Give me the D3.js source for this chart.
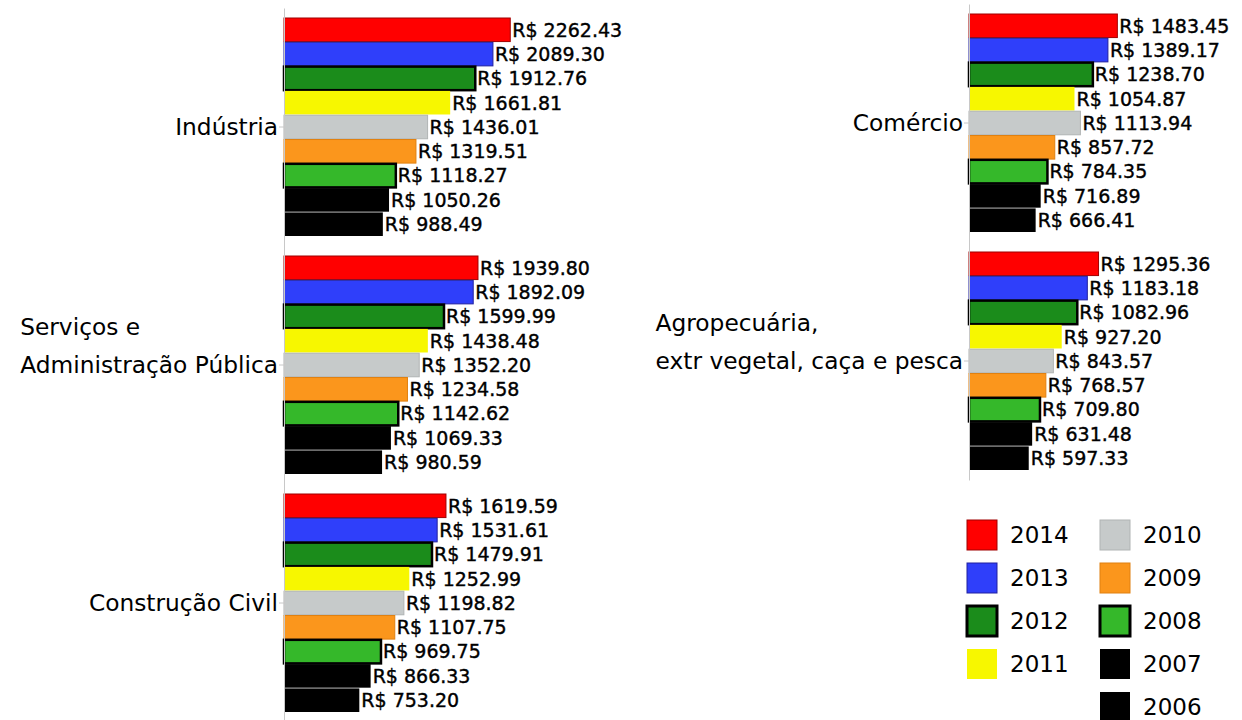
<!DOCTYPE html>
<html>
<head>
<meta charset="utf-8">
<script src="https://cdn.jsdelivr.net/npm/d3@7/dist/d3.min.js"></script>
<style>
  body { margin: 0; background: #fff; }
  svg { display: block; font-family: "DejaVu Sans", sans-serif; }
  .axis path, .axis line { stroke: #c8c8c8; }
</style>
</head>
<body>
<div id="chart"></div>
<script>
var years = ["2014", "2013", "2012", "2011", "2010", "2009", "2008", "2007", "2006"]

var industria = [2262.43, 2089.30, 1912.76, 1661.81, 1436.01, 1319.51, 1118.27, 1050.26, 988.49]
var servicos = [1939.80, 1892.09, 1599.99, 1438.48, 1352.20, 1234.58, 1142.62, 1069.33, 980.59]
var construcao = [1619.59, 1531.61, 1479.91, 1252.99, 1198.82, 1107.75, 969.75, 866.33, 753.20]
var comercio = [1483.45, 1389.17, 1238.70, 1054.87, 1113.94, 857.72, 784.35, 716.89, 666.41]
var agro = [1295.36, 1183.18, 1082.96, 927.20, 843.57, 768.57, 709.80, 631.48, 597.33]

var leftCats = ["Indústria", "Serviços e\nAdministração Pública", "Construção Civil"]
var rightCats = ["Comércio", "Agropecuária,\nextr vegetal, caça e pesca"]

var fills = ["#ff0000", "#2f3ffa", "#1b8c1b", "#f7f700", "#c6caca", "#fb961c", "#35b82a", "#000000", "#000000"]
var strokes = ["#a00000", "#2020a0", "#000000", "none", "#b0b4b4", "#e08010", "#000000", "none", "none"]

var width = 1242, height = 720

var svg = d3.select("#chart")
  .append("svg")
  .attr("width", width)
  .attr("height", height)

var x = d3.scaleLinear().domain([0, 2500]).range([0, 250])
var fmt = d3.format(".2f")

function drawColumn(cats, series, x0, y0, y1) {
  var outer = d3.scaleBand().domain(cats).range([y0, y1])
  var inner = d3.scaleBand().domain(years)
    .range([10, outer.bandwidth() - 10])
    .paddingInner(0.03)

  var g = svg.append("g")

  cats.forEach(function (c, ci) {
    var rows = years.map(function (y, i) {
      return { year: y, value: series[ci][i], i: i }
    })
    var panel = g.append("g")
      .attr("transform", "translate(" + x0 + "," + outer(c) + ")")

    panel.selectAll("rect")
      .data(rows)
      .enter()
      .append("rect")
      .attr("x", 0)
      .attr("y", function (d) { return inner(d.year) })
      .attr("width", function (d) { return x(d.value) })
      .attr("height", inner.bandwidth())
      .attr("fill", function (d) { return fills[d.i] })
      .attr("stroke", function (d) { return strokes[d.i] })
      .attr("stroke-width", function (d) { return strokes[d.i] == "#000000" ? 2.5 : 1 })

    panel.selectAll("text.val")
      .data(rows)
      .enter()
      .append("text")
      .attr("class", "val")
      .attr("x", function (d) { return x(d.value) + 2 })
      .attr("y", function (d) { return inner(d.year) + inner.bandwidth() / 2 })
      .attr("dy", "0.36em")
      .attr("font-size", 19)
      .attr("fill", "#000")
      .attr("stroke", "#000")
      .attr("stroke-width", 0.4)
      .text(function (d) { return "R$ " + fmt(d.value) })
  })

  var axis = g.append("g")
    .attr("class", "axis")
    .attr("transform", "translate(" + x0 + ",0)")
    .call(d3.axisLeft(outer).tickSize(5).tickSizeOuter(0))

  axis.selectAll(".tick text").remove()

  // category labels: last line sits at the tick, lines left-aligned
  axis.selectAll(".tick").each(function (c) {
    var lines = c.split("\n")
    var t = d3.select(this).append("text")
      .attr("font-family", "DejaVu Sans, sans-serif")
      .attr("font-size", 23.3)
      .attr("text-anchor", "start")
      .attr("fill", "#000")
    var spans = lines.map(function (l, i) {
      return t.append("tspan")
        .attr("y", (i - lines.length + 1) * 38)
        .attr("dy", "0.36em")
        .text(l)
    })
    var maxLen = d3.max(spans, function (s) { return s.node().getComputedTextLength() })
    spans.forEach(function (s) { s.attr("x", -6 - maxLen) })
  })
}

drawColumn(leftCats, [industria, servicos, construcao], 284, 8, 722)
drawColumn(rightCats, [comercio, agro], 969, 4, 480)

// legend
var legend = svg.append("g")
var legendCols = [years.slice(0, 4), years.slice(4)]
legendCols.forEach(function (col, ci) {
  col.forEach(function (y, ri) {
    var i = years.indexOf(y)
    var item = legend.append("g")
      .attr("transform", "translate(" + (967 + ci * 133) + "," + (520 + ri * 43) + ")")
    item.append("rect")
      .attr("width", 30)
      .attr("height", 30)
      .attr("fill", fills[i])
      .attr("stroke", strokes[i])
      .attr("stroke-width", strokes[i] == "#000000" ? 3 : 1)
    item.append("text")
      .attr("x", 43)
      .attr("y", 15)
      .attr("dy", "0.36em")
      .attr("font-size", 23)
      .attr("fill", "#000")
      .text(y)
  })
})
</script>
</body>
</html>
